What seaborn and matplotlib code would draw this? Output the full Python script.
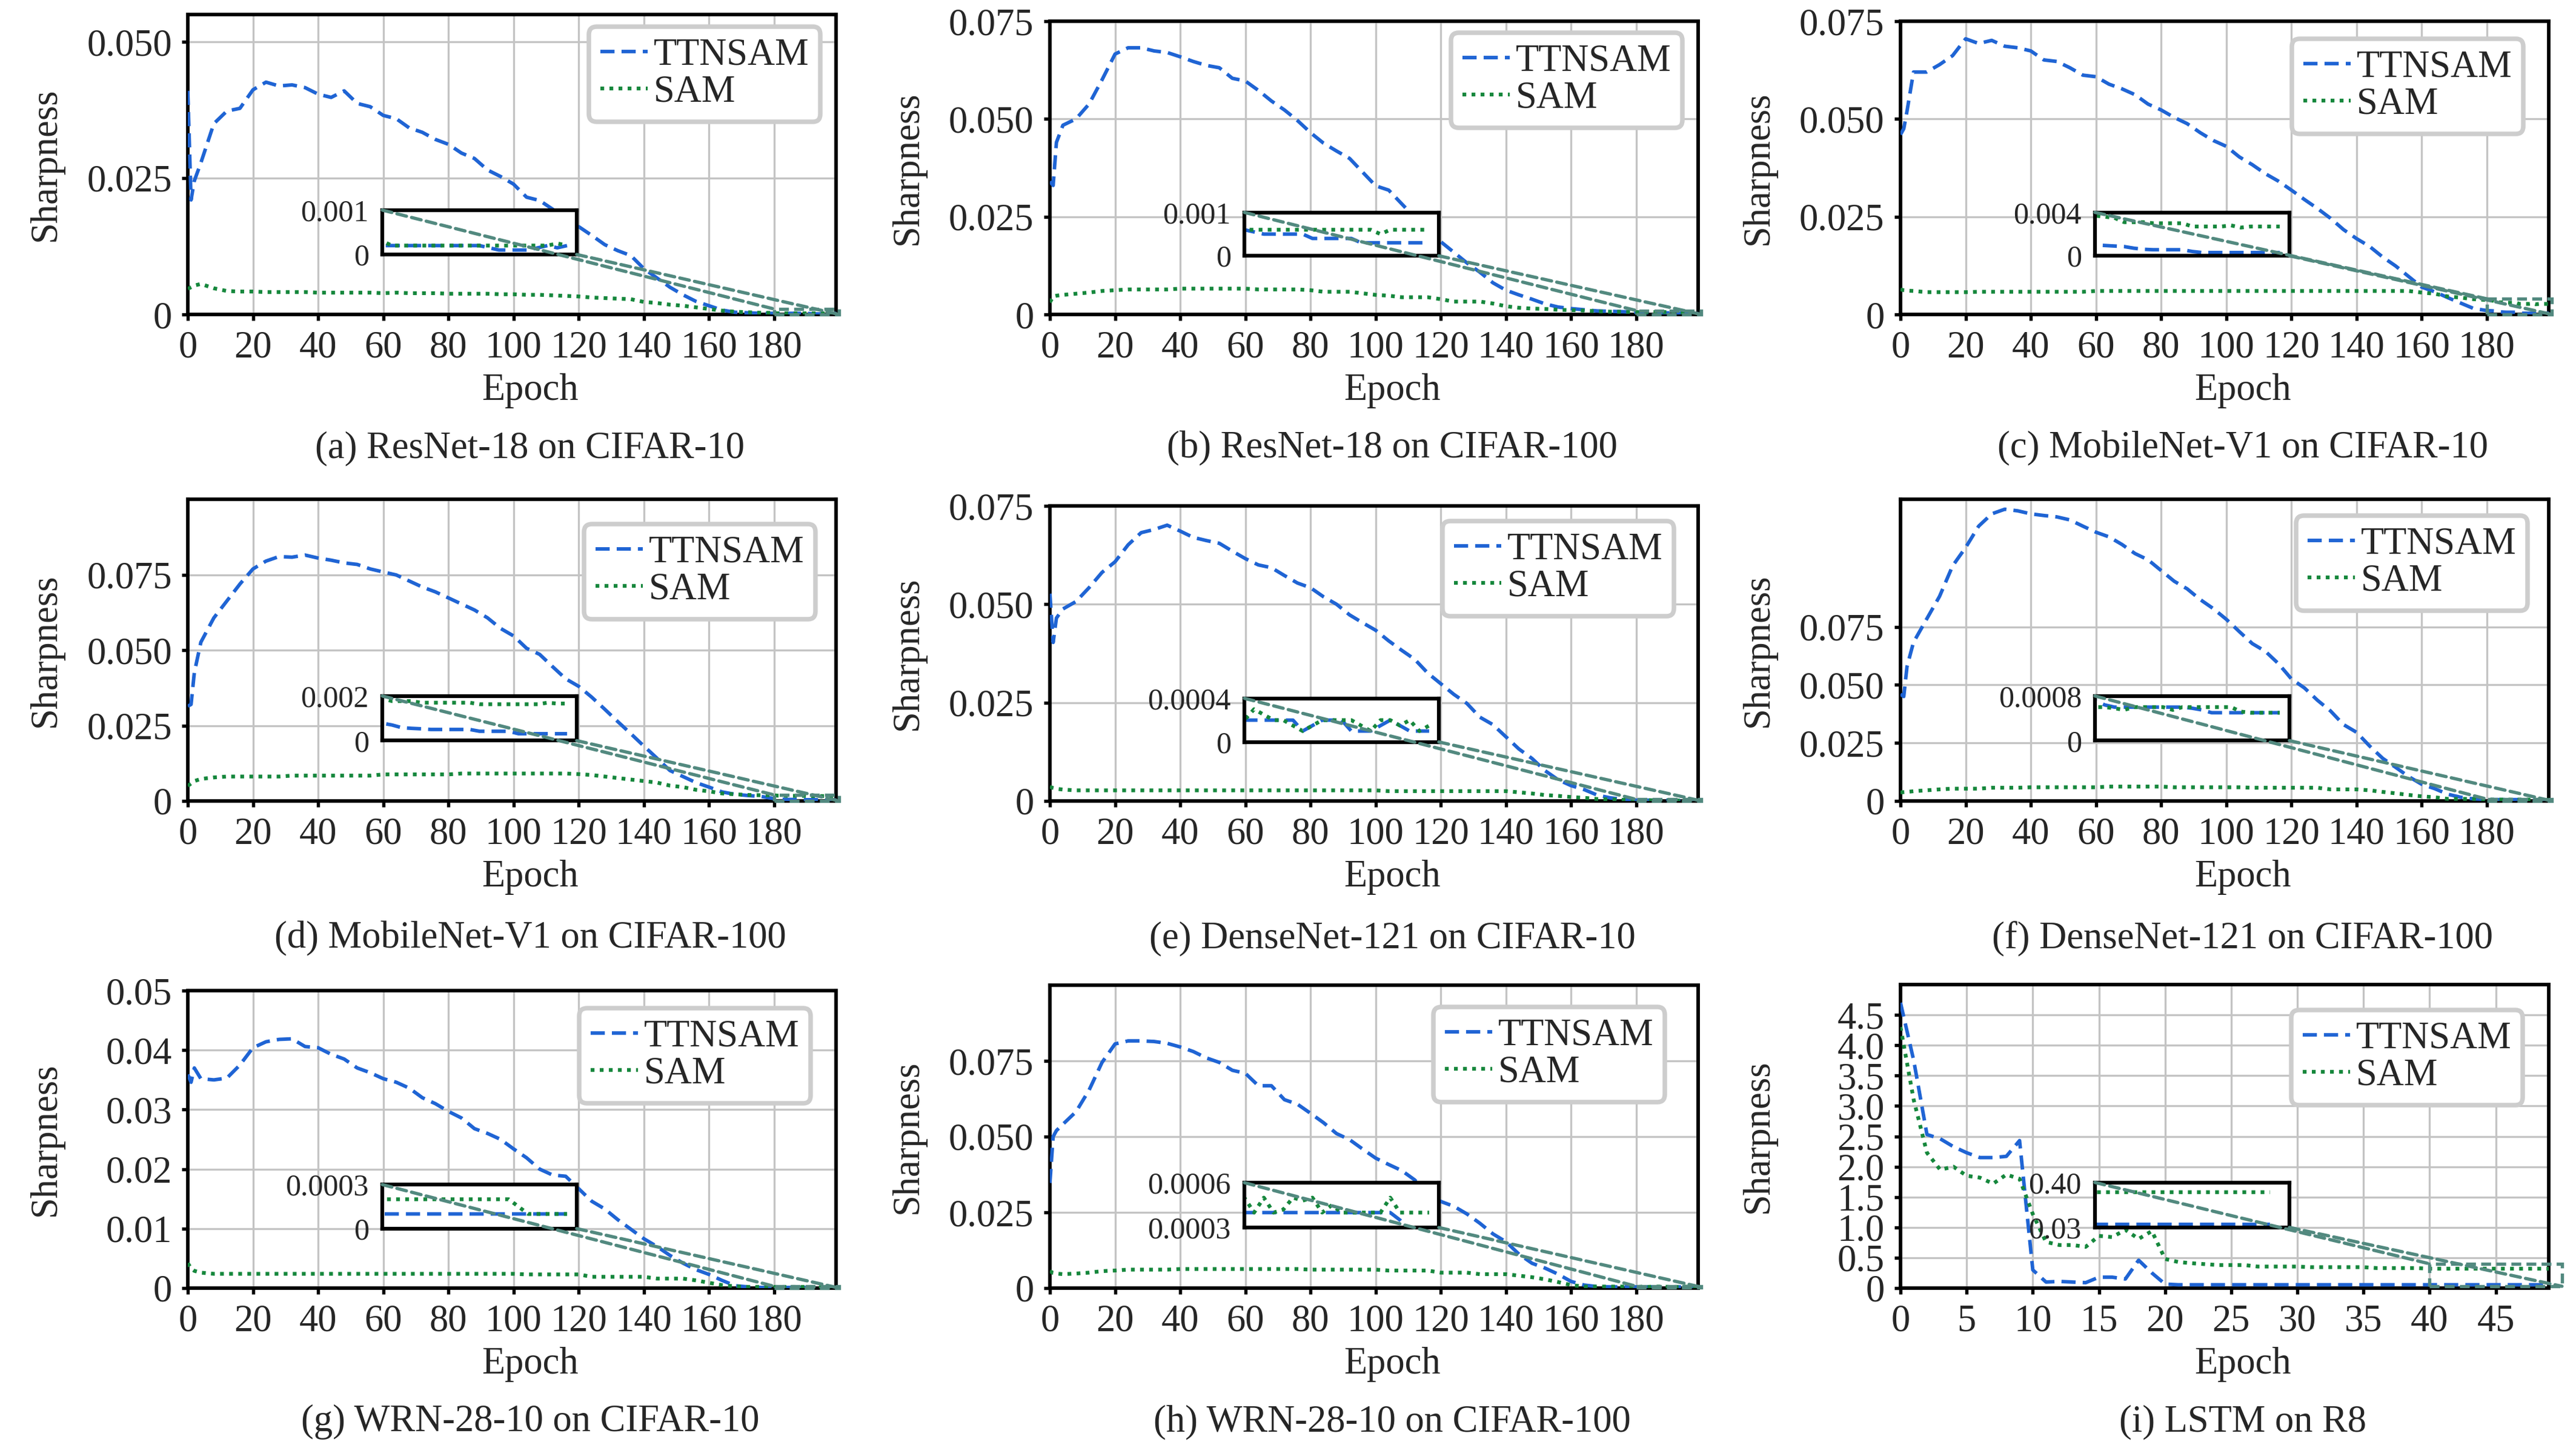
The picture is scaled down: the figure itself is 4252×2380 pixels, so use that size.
import matplotlib
matplotlib.use("Agg")
import matplotlib.pyplot as plt
import seaborn as sns
from matplotlib.patches import ConnectionPatch, Rectangle

# Epochs used for the CIFAR runs (coarse in the body, every epoch in the zoomed tail)
EPOCH = [0, 1, 2] + list(range(4, 180, 4)) + list(range(180, 200))
LSTM_EPOCH = list(range(50))

# (a) ResNet-18 on CIFAR-10
ttnsam_a = [0.041, 0.021, 0.0245,
            0.0278, 0.0350, 0.0373, 0.0378, 0.0412, 0.0426, 0.0419, 0.0421, 0.0416, 0.0404,
            0.0398, 0.0410, 0.0387, 0.0381, 0.0365, 0.0359, 0.0342, 0.0334, 0.0321, 0.0312,
            0.0296, 0.0286, 0.0265, 0.0253, 0.0239, 0.0215, 0.0209, 0.0193, 0.0175, 0.0161,
            0.0145, 0.0128, 0.0117, 0.0108, 0.0084, 0.0067, 0.0050, 0.0036, 0.0024, 0.0016,
            0.0008, 0.0004, 0.0003, 0.0002,
            0.0002, 0.0002, 0.0002, 0.0002, 0.0002, 0.0002, 0.0002, 0.0002, 0.0002, 0.0002,
            0.0002, 0.00015, 0.0001, 0.0001, 0.0001, 0.0001, 0.00015, 0.0002, 0.00015, 0.0002]
sam_a = [0.0047, 0.0050, 0.0053,
         0.0056, 0.0048, 0.0043, 0.0042, 0.0042, 0.0041, 0.0041, 0.0041, 0.0041, 0.0040,
         0.0040, 0.0040, 0.0040, 0.0040, 0.0039, 0.0040, 0.0039, 0.0039, 0.0039, 0.0038,
         0.0038, 0.0038, 0.0038, 0.0037, 0.0037, 0.0036, 0.0036, 0.0035, 0.0034, 0.0033,
         0.0031, 0.0030, 0.0029, 0.0028, 0.0023, 0.0021, 0.0018, 0.0016, 0.0013, 0.0010,
         0.0007, 0.0005, 0.0004, 0.0003,
         0.0003, 0.0002, 0.0002, 0.0002, 0.0002, 0.0002, 0.0002, 0.0002, 0.0002, 0.0002,
         0.0002, 0.0002, 0.0002, 0.0002, 0.0002, 0.0002, 0.0002, 0.0002, 0.00025, 0.0002]

# (b) ResNet-18 on CIFAR-100
ttnsam_b = [0.034, 0.033, 0.044,
            0.0484, 0.0500, 0.0538, 0.0600, 0.0666, 0.0682, 0.0682, 0.0674, 0.0670, 0.0659,
            0.0647, 0.0637, 0.0631, 0.0604, 0.0597, 0.0573, 0.0546, 0.0523, 0.0496, 0.0465,
            0.0438, 0.0418, 0.0399, 0.0364, 0.0329, 0.0318, 0.0283, 0.0248, 0.0217, 0.0186,
            0.0159, 0.0132, 0.0108, 0.0081, 0.0062, 0.0050, 0.0039, 0.0027, 0.0019, 0.0015,
            0.0012, 0.0009, 0.0008, 0.0007,
            0.0006, 0.00055, 0.0005, 0.0005, 0.0005, 0.0005, 0.0005, 0.0004, 0.0004, 0.0004,
            0.0004, 0.0004, 0.0003, 0.0003, 0.0003, 0.0003, 0.0003, 0.0003, 0.0003, 0.0003]
sam_b = [0.0031, 0.0046, 0.0048,
         0.0050, 0.0053, 0.0056, 0.0060, 0.0062, 0.0064, 0.0064, 0.0064, 0.0064, 0.0066,
         0.0066, 0.0066, 0.0066, 0.0066, 0.0066, 0.0064, 0.0064, 0.0064, 0.0064, 0.0062,
         0.0058, 0.0058, 0.0058, 0.0054, 0.0050, 0.0048, 0.0044, 0.0044, 0.0044, 0.0039,
         0.0033, 0.0033, 0.0033, 0.0028, 0.0021, 0.0017, 0.0015, 0.0014, 0.0012, 0.0011,
         0.0010, 0.0008, 0.0007, 0.0007,
         0.0006, 0.0006, 0.0006, 0.0006, 0.0006, 0.0006, 0.0006, 0.0006, 0.0006, 0.0006,
         0.0006, 0.0006, 0.0006, 0.0006, 0.0005, 0.0006, 0.0006, 0.0006, 0.0006, 0.0006]

# (c) MobileNet-V1 on CIFAR-10
ttnsam_c = [0.046, 0.0475, 0.052,
            0.0620, 0.0620, 0.0639, 0.0662, 0.0705, 0.0693, 0.0701, 0.0686, 0.0682, 0.0674,
            0.0651, 0.0647, 0.0631, 0.0612, 0.0608, 0.0589, 0.0577, 0.0562, 0.0538, 0.0523,
            0.0504, 0.0488, 0.0465, 0.0445, 0.0430, 0.0403, 0.0383, 0.0360, 0.0341, 0.0318,
            0.0294, 0.0271, 0.0246, 0.0217, 0.0194, 0.0174, 0.0147, 0.0124, 0.0097, 0.0070,
            0.0058, 0.0043, 0.0029, 0.0015,
            0.0010, 0.00095, 0.0009, 0.00085, 0.0007, 0.0006, 0.00056, 0.00056, 0.00056, 0.00056,
            0.0004, 0.0003, 0.0003, 0.0003, 0.0003, 0.0003, 0.0003, 0.0003, 0.0003, 0.0003]
sam_c = [0.0064, 0.0062, 0.0061,
         0.0060, 0.0057, 0.0057, 0.0057, 0.0057, 0.0058, 0.0058, 0.0058, 0.0058, 0.0058,
         0.0058, 0.0058, 0.0058, 0.0058, 0.0060, 0.0060, 0.0060, 0.0060, 0.0060, 0.0060,
         0.0060, 0.0060, 0.0060, 0.0060, 0.0060, 0.0060, 0.0060, 0.0060, 0.0060, 0.0060,
         0.0060, 0.0060, 0.0060, 0.0060, 0.0060, 0.0060, 0.0060, 0.0060, 0.0060, 0.0056,
         0.0053, 0.0046, 0.0043, 0.0039,
         0.0037, 0.0036, 0.0035, 0.0031, 0.0031, 0.0031, 0.0030, 0.0030, 0.0030, 0.0030,
         0.0027, 0.0027, 0.0027, 0.0027, 0.0028, 0.0026, 0.0027, 0.0027, 0.0027, 0.0027]

# (d) MobileNet-V1 on CIFAR-100
ttnsam_d = [0.0314, 0.032, 0.0425,
            0.0526, 0.0607, 0.0663, 0.0719, 0.0769, 0.0795, 0.0810, 0.0808, 0.0815, 0.0805,
            0.0798, 0.0789, 0.0784, 0.0769, 0.0759, 0.0749, 0.0729, 0.0709, 0.0693, 0.0673,
            0.0653, 0.0633, 0.0607, 0.0572, 0.0547, 0.0506, 0.0486, 0.0445, 0.0405, 0.0380,
            0.0344, 0.0304, 0.0263, 0.0223, 0.0182, 0.0142, 0.0101, 0.0081, 0.0061, 0.0046,
            0.0030, 0.0022, 0.0018, 0.0015,
            0.00078, 0.0007, 0.00058, 0.00055, 0.00053, 0.0005, 0.0005, 0.0005, 0.0005, 0.0005,
            0.00042, 0.00042, 0.00042, 0.00042, 0.00031, 0.00031, 0.00031, 0.00031, 0.00031, 0.00031]
sam_d = [0.0050, 0.0058, 0.0066,
         0.0073, 0.0078, 0.0081, 0.0081, 0.0081, 0.0081, 0.0081, 0.0084, 0.0084, 0.0084,
         0.0084, 0.0084, 0.0084, 0.0084, 0.0088, 0.0088, 0.0088, 0.0088, 0.0088, 0.0088,
         0.0091, 0.0091, 0.0091, 0.0091, 0.0091, 0.0091, 0.0091, 0.0091, 0.0091, 0.0089,
         0.0086, 0.0081, 0.0076, 0.0071, 0.0066, 0.0061, 0.0051, 0.0046, 0.0037, 0.0032,
         0.0025, 0.0022, 0.0020, 0.0019,
         0.0019, 0.00177, 0.00177, 0.00177, 0.0017, 0.0017, 0.0017, 0.0017, 0.0017, 0.0017,
         0.00163, 0.00163, 0.00163, 0.00163, 0.00163, 0.00163, 0.00163, 0.0017, 0.00166, 0.00166]

# (e) DenseNet-121 on CIFAR-10
ttnsam_e = [0.0527, 0.0403, 0.0465,
            0.0488, 0.0507, 0.0542, 0.0581, 0.0608, 0.0651, 0.0682, 0.0690, 0.0701, 0.0686,
            0.0670, 0.0662, 0.0655, 0.0635, 0.0616, 0.0600, 0.0593, 0.0573, 0.0554, 0.0542,
            0.0519, 0.0500, 0.0473, 0.0453, 0.0434, 0.0407, 0.0383, 0.0360, 0.0325, 0.0298,
            0.0271, 0.0248, 0.0213, 0.0194, 0.0163, 0.0132, 0.0108, 0.0077, 0.0054, 0.0039,
            0.0029, 0.0015, 0.0008, 0.0004,
            0.0002, 0.0002, 0.0002, 0.0002, 0.0002, 0.0002, 0.0001, 0.00015, 0.0002, 0.0002,
            0.0002, 0.0001, 0.0001, 0.0001, 0.00015, 0.0002, 0.00015, 0.0001, 0.0001, 0.0001]
sam_e = [0.0036, 0.0033, 0.0031,
         0.0029, 0.0027, 0.0027, 0.0027, 0.0027, 0.0027, 0.0027, 0.0027, 0.0027, 0.0027,
         0.0027, 0.0027, 0.0027, 0.0027, 0.0027, 0.0027, 0.0027, 0.0027, 0.0027, 0.0027,
         0.0027, 0.0027, 0.0027, 0.0027, 0.0027, 0.0025, 0.0025, 0.0025, 0.0025, 0.0025,
         0.0025, 0.0025, 0.0025, 0.0025, 0.0025, 0.0022, 0.0019, 0.0015, 0.0013, 0.0010,
         0.0008, 0.0005, 0.0004, 0.0003,
         0.0002, 0.0003, 0.00025, 0.0002, 0.0002, 0.00015, 0.0001, 0.00015, 0.0002, 0.0002,
         0.0002, 0.0002, 0.00015, 0.0001, 0.0002, 0.0002, 0.00015, 0.0002, 0.0001, 0.00015]

# (f) DenseNet-121 on CIFAR-100
ttnsam_f = [0.046, 0.045, 0.0579,
            0.0684, 0.0783, 0.0882, 0.1013, 0.1092, 0.1184, 0.1237, 0.1257, 0.1250, 0.1237,
            0.1230, 0.1224, 0.1211, 0.1184, 0.1158, 0.1138, 0.1105, 0.1066, 0.1039, 0.0993,
            0.0947, 0.0914, 0.0868, 0.0829, 0.0783, 0.0730, 0.0678, 0.0645, 0.0592, 0.0526,
            0.0487, 0.0434, 0.0388, 0.0329, 0.0296, 0.0237, 0.0184, 0.0145, 0.0105, 0.0072,
            0.0053, 0.0029, 0.0016, 0.0009,
            0.00072, 0.00064, 0.0006, 0.0006, 0.0006, 0.0006, 0.0006, 0.0006, 0.0006, 0.0006,
            0.00058, 0.00055, 0.0005, 0.0005, 0.0005, 0.0005, 0.0005, 0.0005, 0.0005, 0.0005]
sam_f = [0.0037, 0.0038, 0.0039,
         0.0042, 0.0046, 0.0050, 0.0053, 0.0053, 0.0053, 0.0057, 0.0057, 0.0057, 0.0059,
         0.0059, 0.0059, 0.0059, 0.0059, 0.0059, 0.0062, 0.0062, 0.0062, 0.0062, 0.0062,
         0.0059, 0.0059, 0.0059, 0.0059, 0.0059, 0.0059, 0.0057, 0.0057, 0.0057, 0.0057,
         0.0057, 0.0057, 0.0050, 0.0050, 0.0050, 0.0046, 0.0039, 0.0033, 0.0026, 0.0020,
         0.0016, 0.0009, 0.0009, 0.0009,
         0.0006, 0.0006, 0.00058, 0.00055, 0.0006, 0.0006, 0.0006, 0.0006, 0.00055, 0.0006,
         0.0006, 0.0006, 0.0006, 0.0006, 0.0006, 0.00052, 0.0005, 0.0005, 0.0005, 0.0005]

# (g) WRN-28-10 on CIFAR-10
ttnsam_g = [0.0359, 0.0346, 0.0370,
            0.0352, 0.0350, 0.0353, 0.0375, 0.0404, 0.0414, 0.0418, 0.0419, 0.0406, 0.0404,
            0.0393, 0.0385, 0.0370, 0.0362, 0.0352, 0.0346, 0.0336, 0.0320, 0.0310, 0.0297,
            0.0286, 0.0268, 0.0260, 0.0250, 0.0234, 0.0219, 0.0200, 0.0190, 0.0188, 0.0167,
            0.0146, 0.0133, 0.0115, 0.0099, 0.0083, 0.0070, 0.0055, 0.0042, 0.0031, 0.0023,
            0.0013, 0.0004, 0.0002, 0.0001,
            0.0001, 0.0001, 0.0001, 0.0001, 0.0001, 0.0001, 0.0001, 0.0001, 0.0001, 0.0001,
            0.0001, 0.0001, 0.0001, 0.0001, 0.0001, 0.0001, 0.0001, 0.0001, 0.0001, 0.0001]
sam_g = [0.0042, 0.0033, 0.0029,
         0.0026, 0.0024, 0.0024, 0.0024, 0.0024, 0.0024, 0.0024, 0.0024, 0.0024, 0.0024,
         0.0024, 0.0024, 0.0024, 0.0024, 0.0024, 0.0024, 0.0024, 0.0024, 0.0024, 0.0024,
         0.0024, 0.0024, 0.0024, 0.0024, 0.0024, 0.0023, 0.0023, 0.0023, 0.0023, 0.0023,
         0.0019, 0.0019, 0.0019, 0.0019, 0.0019, 0.0016, 0.0016, 0.0016, 0.0013, 0.0009,
         0.0005, 0.0003, 0.0002, 0.0002,
         0.0002, 0.0002, 0.0002, 0.0002, 0.0002, 0.0002, 0.0002, 0.0002, 0.0002, 0.0002,
         0.0002, 0.0002, 0.0002, 0.0002, 0.00015, 0.0001, 0.0001, 0.0001, 0.0001, 0.0001]

# (h) WRN-28-10 on CIFAR-100
ttnsam_h = [0.0347, 0.0500, 0.0520,
            0.0541, 0.0582, 0.0653, 0.0745, 0.0806, 0.0816, 0.0816, 0.0814, 0.0808, 0.0796,
            0.0781, 0.0760, 0.0745, 0.0719, 0.0709, 0.0668, 0.0668, 0.0622, 0.0607, 0.0577,
            0.0546, 0.0510, 0.0490, 0.0459, 0.0429, 0.0408, 0.0388, 0.0357, 0.0311, 0.0286,
            0.0270, 0.0245, 0.0214, 0.0179, 0.0153, 0.0112, 0.0082, 0.0066, 0.0046, 0.0022,
            0.0010, 0.0005, 0.0004, 0.0004,
            0.0004, 0.0004, 0.0004, 0.0004, 0.0004, 0.0004, 0.0004, 0.0004, 0.0004, 0.0004,
            0.0004, 0.0004, 0.0004, 0.0004, 0.0004, 0.0004, 0.00035, 0.00028, 0.00028, 0.00028]
sam_h = [0.0056, 0.0050, 0.0048,
         0.0046, 0.0048, 0.0051, 0.0056, 0.0058, 0.0061, 0.0061, 0.0061, 0.0061, 0.0063,
         0.0063, 0.0063, 0.0063, 0.0063, 0.0063, 0.0063, 0.0063, 0.0063, 0.0063, 0.0061,
         0.0061, 0.0061, 0.0061, 0.0061, 0.0061, 0.0058, 0.0058, 0.0058, 0.0058, 0.0051,
         0.0051, 0.0051, 0.0046, 0.0046, 0.0046, 0.0041, 0.0036, 0.0029, 0.0020, 0.0010,
         0.0005, 0.0005, 0.0005, 0.0005,
         0.0005, 0.0004, 0.0005, 0.0004, 0.00042, 0.0005, 0.00048, 0.0005, 0.0004, 0.00045,
         0.0004, 0.0004, 0.0004, 0.0004, 0.0004, 0.0005, 0.0004, 0.0004, 0.0004, 0.0004]

# (i) LSTM on R8
ttnsam_i = [4.70, 3.75, 2.53, 2.46, 2.33, 2.23, 2.15, 2.15, 2.17, 2.43,
            0.30, 0.10, 0.11, 0.10, 0.09, 0.18, 0.18, 0.15, 0.46, 0.25,
            0.066, 0.055, 0.055, 0.055, 0.055, 0.055, 0.055, 0.055, 0.055, 0.055,
            0.055, 0.055, 0.055, 0.055, 0.055, 0.055, 0.055, 0.055, 0.055, 0.055,
            0.055, 0.055, 0.055, 0.055, 0.055, 0.055, 0.055, 0.055, 0.055, 0.055]
sam_i = [4.30, 3.10, 2.23, 1.95, 2.00, 1.85, 1.82, 1.72, 1.87, 1.80,
         1.22, 0.76, 0.71, 0.71, 0.68, 0.86, 0.84, 0.96, 0.81, 0.94,
         0.48, 0.43, 0.41, 0.395, 0.38, 0.38, 0.38, 0.355, 0.355, 0.355,
         0.355, 0.345, 0.345, 0.345, 0.345, 0.345, 0.33, 0.33, 0.33, 0.33,
         0.32, 0.32, 0.32, 0.32, 0.32, 0.32, 0.32, 0.32, 0.32, 0.32]

TTNSAM = [ttnsam_a, ttnsam_b, ttnsam_c, ttnsam_d, ttnsam_e, ttnsam_f, ttnsam_g, ttnsam_h, ttnsam_i]
SAM = [sam_a, sam_b, sam_c, sam_d, sam_e, sam_f, sam_g, sam_h, sam_i]

CAPTIONS = ["(a) ResNet-18 on CIFAR-10", "(b) ResNet-18 on CIFAR-100", "(c) MobileNet-V1 on CIFAR-10",
            "(d) MobileNet-V1 on CIFAR-100", "(e) DenseNet-121 on CIFAR-10", "(f) DenseNet-121 on CIFAR-100",
            "(g) WRN-28-10 on CIFAR-10", "(h) WRN-28-10 on CIFAR-100", "(i) LSTM on R8"]

Y_TOP = [0.055, 0.075, 0.075, 0.1, 0.075, 0.13, 0.05, 0.1, 5.0]
TICKS_025 = [0, 0.025, 0.05, 0.075]
LABELS_025 = ["0", "0.025", "0.050", "0.075"]
Y_TICKS = [[0, 0.025, 0.05], TICKS_025, TICKS_025, TICKS_025, TICKS_025, TICKS_025,
           [0, 0.01, 0.02, 0.03, 0.04, 0.05], TICKS_025,
           [0, 0.5, 1.0, 1.5, 2.0, 2.5, 3.0, 3.5, 4.0, 4.5]]
Y_LABELS = [["0", "0.025", "0.050"], LABELS_025, LABELS_025, LABELS_025, LABELS_025, LABELS_025,
            ["0", "0.01", "0.02", "0.03", "0.04", "0.05"], LABELS_025,
            ["0", "0.5", "1.0", "1.5", "2.0", "2.5", "3.0", "3.5", "4.0", "4.5"]]

# zoomed window (y range) and its two tick labels
INSET_Y = [(0, 0.001), (0, 0.001), (0, 0.004), (0, 0.002), (0, 0.0004), (0, 0.0008),
           (0, 0.0003), (0.0003, 0.0006), (0.03, 0.40)]
INSET_LABELS = [("0", "0.001"), ("0", "0.001"), ("0", "0.004"), ("0", "0.002"), ("0", "0.0004"),
                ("0", "0.0008"), ("0", "0.0003"), ("0.0003", "0.0006"), ("0.03", "0.40")]

BLUE = "#1f64d4"
GREEN = "#15873c"
TEAL = "#52897f"

# layout in output pixels
W, H = 4252, 2380
COL_LEFT = [310, 1733, 3137]
AX_W = 1070
ROW_BOTTOM = [519, 1322, 2126]
AX_TOP = [24, 35, 35, 824, 835, 824, 1635, 1626, 1625]
CAPTION_Y = [740, 1549, 2347]
# legend frame offset from the axes' upper-right corner (px)
LEG_DX = [26, 26, 42, 34, 40, 35, 42, 55, 43]
LEG_DY = [20, 19, 29, 41, 25, 27, 29, 36, 42]

sns.set_style("white")
plt.rcParams["font.family"] = ["Liberation Serif", "DejaVu Serif"]

fig = plt.figure(figsize=(W / 300, H / 300), dpi=300)

for i in range(9):
    row, col = i // 3, i % 3
    left = COL_LEFT[col]
    top = AX_TOP[i]
    bottom = ROW_BOTTOM[row]
    ax_h = bottom - top
    ax = fig.add_axes([left / W, 1 - bottom / H, AX_W / W, ax_h / H])

    if i == 8:
        x = LSTM_EPOCH
        xmax, xticks = 49, list(range(0, 50, 5))
        zx = (40, 50)
    else:
        x = EPOCH
        xmax, xticks = 199, list(range(0, 200, 20))
        zx = (180, 200)

    sns.lineplot(x=x, y=TTNSAM[i], ax=ax, color=BLUE, lw=1.4, linestyle=(0, (4.0, 2.0)),
                 label="TTNSAM", estimator=None, sort=False, zorder=3)
    sns.lineplot(x=x, y=SAM[i], ax=ax, color=GREEN, lw=1.5, linestyle=(0, (1.0, 1.4)),
                 label="SAM", estimator=None, sort=False, zorder=3)

    ax.set_xlim(0, xmax)
    ax.set_ylim(0, Y_TOP[i])
    ax.set_xticks(xticks)
    ax.set_xticklabels([str(t) for t in xticks])
    ax.set_yticks(Y_TICKS[i])
    ax.set_yticklabels(Y_LABELS[i])
    ax.grid(True, color="#c4c4c4", lw=0.8)
    ax.set_axisbelow(True)
    for sp in ax.spines.values():
        sp.set_visible(True)
        sp.set_color("black")
        sp.set_linewidth(1.4)
    ax.tick_params(axis="both", direction="out", length=2.3, width=1.3, labelsize=15,
                   pad=4, color="black", left=True, bottom=True)

    ax.set_xlabel("Epoch", fontsize=15)
    ax.xaxis.set_label_coords(0.528, -97 / ax_h)
    ax.set_ylabel("Sharpness", fontsize=15)
    ax.yaxis.set_label_coords(-205 / AX_W, 0.5)

    leg = ax.legend(loc="upper right",
                    bbox_to_anchor=(1 - LEG_DX[i] / AX_W, 1 - LEG_DY[i] / ax_h),
                    borderaxespad=0, fontsize=15, frameon=True, fancybox=True, framealpha=1,
                    handlelength=1.25, handletextpad=0.15, labelspacing=0.05, borderpad=0.3)
    leg.get_frame().set_edgecolor("#cdcdcd")
    leg.get_frame().set_linewidth(1.8)

    # zoomed-in tail
    y0, y1 = INSET_Y[i]
    axins = ax.inset_axes([0.3, 0.2, 0.3, 0.148])
    sns.lineplot(x=x, y=TTNSAM[i], ax=axins, color=BLUE, lw=1.4, linestyle=(0, (4.0, 2.0)),
                 estimator=None, sort=False, legend=False)
    sns.lineplot(x=x, y=SAM[i], ax=axins, color=GREEN, lw=1.5, linestyle=(0, (1.0, 1.4)),
                 estimator=None, sort=False, legend=False)
    axins.set_xlim(*zx)
    axins.set_ylim(y0, y1)
    axins.set_facecolor("white")
    axins.grid(False)
    axins.set_xticks([])
    axins.set_yticks([y0, y1])
    axins.set_yticklabels(list(INSET_LABELS[i]))
    axins.tick_params(axis="y", direction="out", length=2.3, width=1.3, labelsize=12, pad=3)
    axins.set_xlabel("")
    axins.set_ylabel("")
    for sp in axins.spines.values():
        sp.set_visible(True)
        sp.set_color("black")
        sp.set_linewidth(1.5)

    ax.add_patch(Rectangle((zx[0], y0), zx[1] - zx[0], y1 - y0, fill=False, ec=TEAL,
                           lw=1.3, ls=(0, (3, 1.6)), clip_on=False, zorder=4))
    for a_pt, b_pt in [((0, 1), (zx[0], y1)), ((1, 0), (zx[1], y0))]:
        con = ConnectionPatch(xyA=a_pt, coordsA=axins.transAxes, xyB=b_pt, coordsB=ax.transData,
                              color=TEAL, lw=1.3, ls=(0, (3, 1.6)), zorder=10)
        fig.add_artist(con)

    fig.text((left + AX_W / 2 + 30) / W, 1 - CAPTION_Y[row] / H, CAPTIONS[i],
             ha="center", va="center", fontsize=15)

fig.savefig("out.png", dpi=300)
